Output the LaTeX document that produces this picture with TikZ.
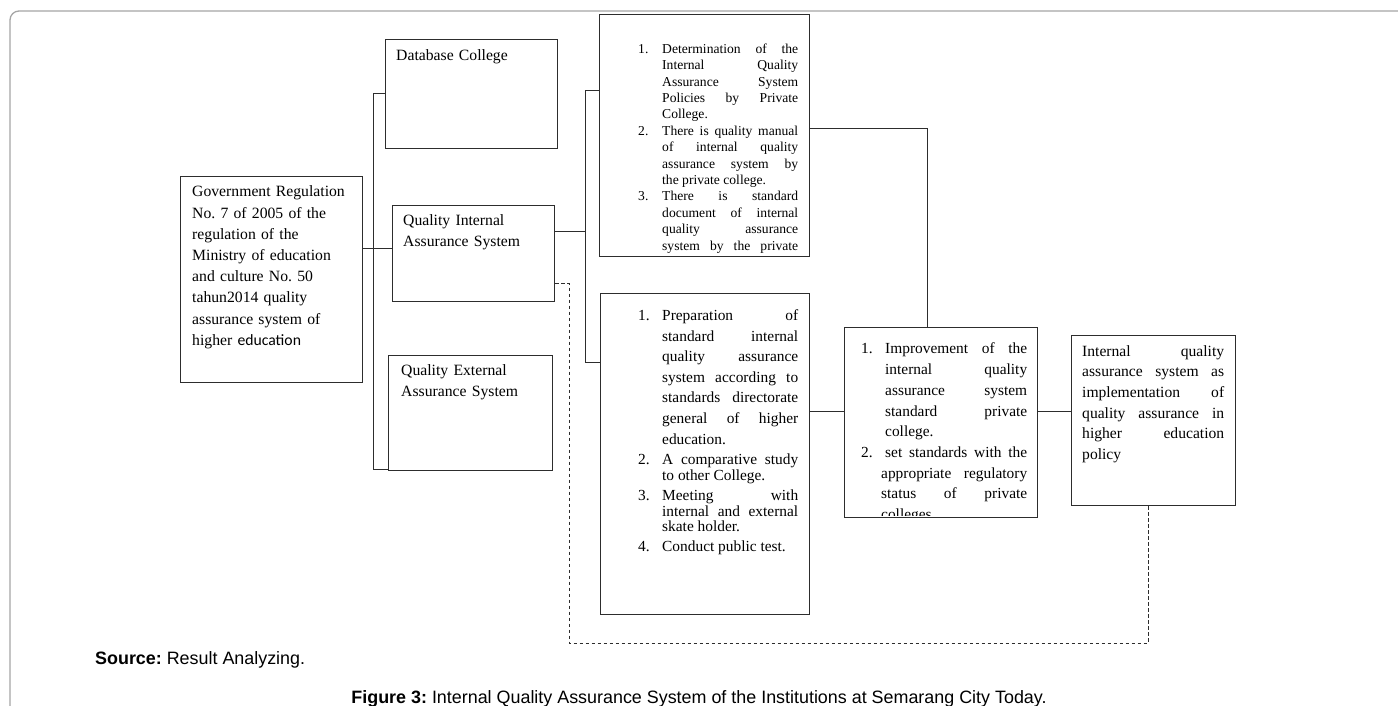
\documentclass[tikz,border=0pt]{standalone}
\usepackage{fontspec}
\setmainfont{Liberation Serif}
\newfontfamily\arialfont{Liberation Sans}
\newfontfamily\calibrifont{Carlito}
\usetikzlibrary{positioning}
\definecolor{framegray}{RGB}{165,165,165}
\definecolor{linegray}{RGB}{45,45,45}
\frenchspacing

% numbered entry with hanging indent
\newcommand{\listitem}[3][24pt]{\par\noindent\strut\hangindent=#1\hangafter=1\makebox[24pt][l]{#2}#3\par}

\begin{document}
\begin{tikzpicture}[x=1pt,y=-1pt,
  plainbox/.style={draw=linegray,line width=1pt,inner sep=0pt,anchor=north west},
  txt/.style={inner sep=0pt,anchor=north west},
  link/.style={draw=linegray,line width=1pt},
  backlink/.style={link,dash pattern=on 3.5pt off 2.5pt}]
\useasboundingbox (0,0) rectangle (1398,706);
\draw[framegray,line width=1.3pt,rounded corners=9pt] (10,11) rectangle (1430,740);

% Left column
\node[plainbox,minimum width=182pt,minimum height=206pt] (gov) at (180,176) {};
\node[txt,text width=165pt,align=left,font=\fontsize{15.7}{21.2}\selectfont] (govtext)
  at ([xshift=12pt,yshift=-5.9pt]gov.north west) {\strut Government Regulation\\
  No. 7 of 2005 of the\\ regulation of the\\ Ministry of education\\ and culture No. 50\\
  tahun2014 quality\\ assurance system of\\ higher {\calibrifont education}};

% Second column
\node[plainbox,minimum width=172pt,minimum height=109pt] (dbase) at (385,39) {};
\node[txt,text width=150pt,align=left,font=\fontsize{15.7}{21.5}\selectfont] (dbasetext)
  at ([xshift=11pt,yshift=-6pt]dbase.north west) {\strut Database College};

\node[plainbox,minimum width=162pt,minimum height=96pt] (qis) at (392,205) {};
\node[txt,text width=145pt,align=left,font=\fontsize{15.7}{21.5}\selectfont] (qistext)
  at ([xshift=11pt,yshift=-5pt]qis.north west) {\strut Quality Internal\\ Assurance System};

\node[plainbox,minimum width=164pt,minimum height=115pt] (qes) at (388,355) {};
\node[txt,text width=145pt,align=left,font=\fontsize{15.7}{21.5}\selectfont] (qestext)
  at ([xshift=13pt,yshift=-5pt]qes.north west) {\strut Quality External\\ Assurance System};

% Third column
\node[plainbox,minimum width=210pt,minimum height=242pt] (policy) at (599,14) {};
\node[txt,text width=160pt,align=justify,font=\fontsize{13.6}{16.4}\selectfont] (policytext)
  at ([xshift=39pt,yshift=-22.8pt]policy.north west) {%
  \listitem{1.}{Determination of the\linebreak Internal Quality\linebreak Assurance System\linebreak Policies by Private\linebreak College.}
  \listitem{2.}{There is quality manual\linebreak of internal quality\linebreak assurance system by\linebreak the private college.}
  \listitem{3.}{There is standard\linebreak document of internal\linebreak quality assurance\linebreak system by the private\linebreak}};

\node[plainbox,minimum width=209pt,minimum height=321pt] (prep) at (600,293) {};
\node[txt,text width=160pt,align=justify,font=\fontsize{15.4}{20.6}\selectfont] (preptext)
  at ([xshift=38pt,yshift=-6.6pt]prep.north west) {%
  \listitem{1.}{Preparation of\linebreak standard internal\linebreak quality assurance\linebreak system according to\linebreak standards directorate\linebreak general of higher\linebreak education.}
  \fontsize{15.4}{14.8}\selectfont\parskip=5.5pt
  \listitem{2.}{A comparative study\linebreak to other College.}
  \listitem{3.}{Meeting with\linebreak internal and external\linebreak skate holder.}
  \listitem{4.}{Conduct public test.}};

% Fourth column
\node[plainbox,minimum width=193pt,minimum height=190pt] (improve) at (844,327) {};
\begin{scope}
\clip (improve.north west) rectangle ([yshift=2.5pt]improve.south east);
\node[txt,text width=166pt,align=justify,font=\fontsize{15.4}{20.7}\selectfont] (improvetext)
  at ([xshift=17pt,yshift=-6pt]improve.north west) {%
  \listitem{1.}{Improvement of the\linebreak internal quality\linebreak assurance system\linebreak standard private\linebreak college.}
  \listitem[20pt]{2.}{set standards with the\linebreak appropriate regulatory\linebreak status of private\linebreak colleges}};
\end{scope}

% Last box
\node[plainbox,minimum width=164pt,minimum height=170pt] (impl) at (1071,335) {};
\node[txt,text width=142pt,align=justify,font=\fontsize{15.6}{20.7}\selectfont] (impltext)
  at ([xshift=11pt,yshift=-6.5pt]impl.north west) {\strut Internal quality\linebreak
  assurance system as\linebreak implementation of\linebreak quality assurance in\linebreak
  higher education\linebreak policy};

% Connectors
\draw[link] (dbase.west) -- ++(-12,0) |- ([yshift=2pt]qes.south west);
\draw[link] ([yshift=5pt]qis.west) -- ([yshift=5pt]qis.west -| gov.east);
\draw[link] ([yshift=45pt]policy.west) -- ++(-14,0) coordinate (rbus) |- ([yshift=91.5pt]prep.west);
\coordinate (qisout) at ([yshift=22pt]qis.east);
\draw[link] (qisout) -- (qisout -| rbus);
\draw[link] ([yshift=7pt]policy.east) -| ([xshift=-14pt]improve.north);
\draw[link] ([yshift=11pt]improve.west) -- ([yshift=11pt]improve.west -| prep.east);
\draw[link] ([yshift=11pt]improve.east) -- ([yshift=11pt]improve.east -| impl.west);

% Dashed feedback
\coordinate (fbturn) at (1148,643);
\draw[backlink] ([yshift=-30pt]qis.east) -- ++(14,0) |- (fbturn) -- (fbturn |- impl.south);

% Captions
\node[inner sep=0pt,anchor=base west,font=\arialfont\fontsize{17.9}{20}\selectfont] (source)
  at (95,664) {\textbf{Source:} Result Analyzing.};
\node[inner sep=0pt,anchor=base,font=\arialfont\fontsize{17.9}{20}\selectfont] (caption)
  at (699,703) {\textbf{Figure 3:} Internal Quality Assurance System of the Institutions at Semarang City Today.};
\end{tikzpicture}
\end{document}
